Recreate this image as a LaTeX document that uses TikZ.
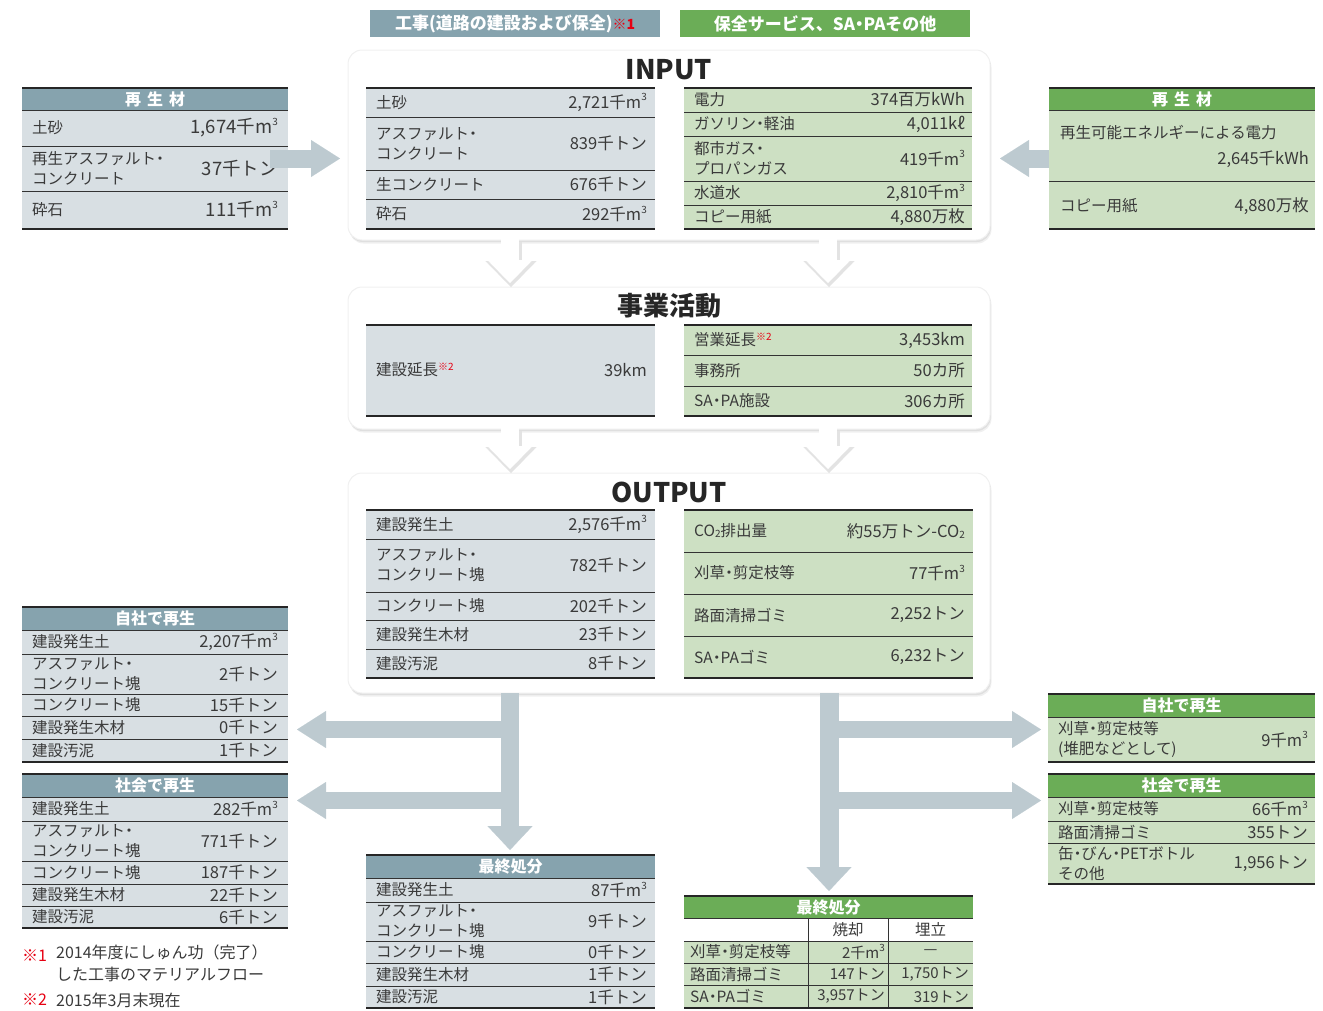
\documentclass[tikz,border=0pt]{standalone}
\usepackage{fontspec}
\setmainfont{Noto Sans CJK JP}
\usetikzlibrary{arrows.meta,shadows}

\definecolor{grayHead}{HTML}{86A3AE}
\definecolor{grayCell}{HTML}{D8DFE3}
\definecolor{greenHead}{HTML}{6BAD57}
\definecolor{greenCell}{HTML}{CDE0C3}
\definecolor{flowGray}{HTML}{BDCAD0}
\definecolor{inkGray}{HTML}{3A3A3A}
\definecolor{noteRed}{HTML}{E60012}

\newcommand\cubic{\raisebox{.8ex}{\fontsize{10}{10}\selectfont 3}}
\newcommand\subtwo{\raisebox{-.1ex}{\fontsize{10}{10}\selectfont 2}}
\newcommand\noteref[1]{\raisebox{.6ex}{\fontsize{10}{10}\selectfont\color{noteRed}※#1}}
\newcommand\nk{\kern-.25em・\kern-.25em}

\begin{document}
\begin{tikzpicture}[x=1pt, y=-1pt, text=inkGray, font=\fontsize{15.5}{20}\selectfont,
    panel/.style={fill=white, draw=black!6, line width=1pt, rounded corners=14pt, anchor=north west,
      inner sep=0pt, outer sep=0pt,
      drop shadow={shadow xshift=1.5pt, shadow yshift=-3.5pt, fill=black, opacity=.06},
      drop shadow={shadow xshift=.8pt, shadow yshift=-2pt, fill=black, opacity=.07}},
    tag/.style={fill=#1, text=white, anchor=north west, minimum width=290pt, minimum height=27pt,
      inner sep=0pt, font=\fontsize{17}{17}\selectfont\bfseries},
    title/.style={inner sep=0pt, text=black!85, font=\fontsize{27}{27}\selectfont\bfseries},
    tbl/.style={fill=#1, anchor=north west, inner sep=0pt, outer sep=0pt},
    tbl/.default=grayCell,
    hd/.style={fill=#1, anchor=north west, inner sep=0pt, outer sep=0pt, text=white,
      font=\fontsize{16}{16}\selectfont\bfseries},
    lbl/.style={anchor=west, align=left, inner sep=0pt},
    val/.style={anchor=east, align=right, inner sep=0pt, font=\fontsize{16.5}{20}\selectfont},
    big/.style={font=\fontsize{18.5}{20}\selectfont},
    small/.style={font=\fontsize{15}{20}\selectfont},
    rule/.style={draw=black!85, line width=2.4pt},
    sep/.style={draw=black!80, line width=1pt},
    garrow/.style={draw=flowGray, line width=17pt, -{Triangle[width=37pt, length=29pt, line width=.1pt]}},
    gdown/.style={draw=flowGray, line width=19pt, -{Triangle[width=45pt, length=24pt, line width=.1pt]}},
    wdown/.style={draw=white, line width=18pt, -{Triangle[width=45pt, length=23pt, line width=.1pt]}},
    wshade/.style={draw=black!11, line width=21pt, -{Triangle[width=51pt, length=26pt, line width=.1pt]}}]

  \useasboundingbox (0,0) rectangle (1323,1010);

  % ---------------- tags ----------------
  \node[tag=grayHead] (tagWork) at (370,10) {工事(道路の建設および保全){\color{noteRed}\fontsize{14}{14}\selectfont ※1}};
  \node[tag=greenHead] (tagServ) at (680,10) {保全サービス、SA\nk PAその他};

  % ---------------- panels ----------------
  \node[panel, minimum width=642pt, minimum height=190pt] (input) at (348,50) {};
  \node[panel, minimum width=642pt, minimum height=142pt] (act) at (348,287) {};
  \node[panel, minimum width=642pt, minimum height=220pt] (output) at (348,473) {};
  \node[title] (inTitle) at (669,70) {INPUT};
  \node[title, font=\fontsize{26}{26}\selectfont\bfseries] (actTitle) at (669,306) {事業活動};
  \node[title] (outTitle) at (669,492) {OUTPUT};

  % white arrows between the panels
  \coordinate (dnA) at (510,0);
  \coordinate (dnB) at (828,0);
  \draw[wshade, shorten >=2pt, transform canvas={xshift=1pt, yshift=-2pt}] (input.south -| dnA) -- (act.north -| dnA);
  \draw[wshade, shorten >=2pt, transform canvas={xshift=1pt, yshift=-2pt}] (input.south -| dnB) -- (act.north -| dnB);
  \draw[wshade, shorten >=2pt, transform canvas={xshift=1pt, yshift=-2pt}] (act.south -| dnA) -- (output.north -| dnA);
  \draw[wshade, shorten >=2pt, transform canvas={xshift=1pt, yshift=-2pt}] (act.south -| dnB) -- (output.north -| dnB);
  \draw[wdown, shorten >=4pt] ([yshift=1pt]input.south -| dnA) -- (act.north -| dnA);
  \draw[wdown, shorten >=4pt] ([yshift=1pt]input.south -| dnB) -- (act.north -| dnB);
  \draw[wdown, shorten >=4pt] ([yshift=1pt]act.south -| dnA) -- (output.north -| dnA);
  \draw[wdown, shorten >=4pt] ([yshift=1pt]act.south -| dnB) -- (output.north -| dnB);

  % ---------------- INPUT ----------------
  \node[tbl, minimum width=289pt, minimum height=141pt] (inW) at (366,88) {};
  \draw[sep] (366,117) -- (655,117);
  \draw[sep] (366,170) -- (655,170);
  \draw[sep] (366,199) -- (655,199);
  \draw[rule] (inW.north west) -- (inW.north east);
  \draw[rule] (inW.south west) -- (inW.south east);
  \node[lbl] (inW1) at (376,102.5) {土砂};
  \node[val] (inW1v) at (647,102.5) {2,721千m\cubic};
  \node[lbl] (inW2) at (376,143.5) {アスファルト\nk\\コンクリート};
  \node[val] (inW2v) at (647,143.5) {839千トン};
  \node[lbl] (inW3) at (376,184.5) {生コンクリート};
  \node[val] (inW3v) at (647,184.5) {676千トン};
  \node[lbl] (inW4) at (376,214) {砕石};
  \node[val] (inW4v) at (647,214) {292千m\cubic};

  \node[tbl=greenCell, minimum width=288pt, minimum height=141pt] (inS) at (684,88) {};
  \draw[sep] (684,112) -- (972,112);
  \draw[sep] (684,136) -- (972,136);
  \draw[sep] (684,181) -- (972,181);
  \draw[sep] (684,205) -- (972,205);
  \draw[rule] (inS.north west) -- (inS.north east);
  \draw[rule] (inS.south west) -- (inS.south east);
  \node[lbl] (inS1) at (694,100) {電力};
  \node[val] (inS1v) at (965,100) {374百万kWh};
  \node[lbl] (inS2) at (694,124) {ガソリン\nk 軽油};
  \node[val] (inS2v) at (965,124) {4,011kℓ};
  \node[lbl] (inS3) at (694,158.5) {都市ガス\nk\\プロパンガス};
  \node[val] (inS3v) at (965,158.5) {419千m\cubic};
  \node[lbl] (inS4) at (694,193) {水道水};
  \node[val] (inS4v) at (965,193) {2,810千m\cubic};
  \node[lbl] (inS5) at (694,217) {コピー用紙};
  \node[val] (inS5v) at (965,217) {4,880万枚};

  % recycled material, left and right
  \node[tbl, minimum width=266pt, minimum height=141pt] (srcL) at (22,88) {};
  \node[hd=grayHead, minimum width=266pt, minimum height=22pt] (srcLh) at (22,88) {再\hspace{6pt}生\hspace{6pt}材};
  \draw[sep] (22,110) -- (288,110);
  \draw[sep] (22,146) -- (288,146);
  \draw[sep] (22,191) -- (288,191);
  \draw[rule] (srcL.north west) -- (srcL.north east);
  \draw[rule] (srcL.south west) -- (srcL.south east);
  \node[lbl] (srcL1) at (32,128) {土砂};
  \node[val, big] (srcL1v) at (278,128) {1,674千m\cubic};
  \node[lbl] (srcL2) at (32,168.5) {再生アスファルト\nk\\コンクリート};
  \node[val, big] (srcL2v) at (278,168.5) {37千トン};
  \node[lbl] (srcL3) at (32,210) {砕石};
  \node[val, big] (srcL3v) at (278,210) {111千m\cubic};

  \node[tbl=greenCell, minimum width=266pt, minimum height=141pt] (srcR) at (1049,88) {};
  \node[hd=greenHead, minimum width=266pt, minimum height=22pt] (srcRh) at (1049,88) {再\hspace{6pt}生\hspace{6pt}材};
  \draw[sep] (1049,110) -- (1315,110);
  \draw[sep] (1049,181) -- (1315,181);
  \draw[rule] (srcR.north west) -- (srcR.north east);
  \draw[rule] (srcR.south west) -- (srcR.south east);
  \node[lbl] (srcR1) at (1060,133) {再生可能エネルギーによる電力};
  \node[val] (srcR1v) at (1309,159) {2,645千kWh};
  \node[lbl] (srcR2) at (1060,206) {コピー用紙};
  \node[val] (srcR2v) at (1309,206) {4,880万枚};

  \draw[garrow, line width=18pt, shorten >=8pt] ([xshift=-18pt]srcL.east) -- (srcL.east -| input.west);
  \draw[garrow, line width=18pt, shorten >=10pt] (srcR.west) -- (srcR.west -| input.east);

  % ---------------- business activity ----------------
  \node[tbl, minimum width=289pt, minimum height=91pt] (actW) at (366,325) {};
  \draw[rule] (actW.north west) -- (actW.north east);
  \draw[rule] (actW.south west) -- (actW.south east);
  \node[lbl] (actW1) at (376,370) {建設延長\noteref{2}};
  \node[val] (actW1v) at (647,370) {39km};

  \node[tbl=greenCell, minimum width=288pt, minimum height=91pt] (actS) at (684,325) {};
  \draw[sep] (684,355) -- (972,355);
  \draw[sep] (684,386) -- (972,386);
  \draw[rule] (actS.north west) -- (actS.north east);
  \draw[rule] (actS.south west) -- (actS.south east);
  \node[lbl] (actS1) at (694,340) {営業延長\noteref{2}};
  \node[val] (actS1v) at (965,340) {3,453km};
  \node[lbl] (actS2) at (694,370.5) {事務所};
  \node[val] (actS2v) at (965,370.5) {50カ所};
  \node[lbl] (actS3) at (694,401) {SA\nk PA施設};
  \node[val] (actS3v) at (965,401) {306カ所};

  % ---------------- OUTPUT ----------------
  \node[tbl, minimum width=289pt, minimum height=168pt] (outW) at (366,510) {};
  \draw[sep] (366,539) -- (655,539);
  \draw[sep] (366,592) -- (655,592);
  \draw[sep] (366,620) -- (655,620);
  \draw[sep] (366,649) -- (655,649);
  \draw[rule] (outW.north west) -- (outW.north east);
  \draw[rule] (outW.south west) -- (outW.south east);
  \node[lbl] (outW1) at (376,524.5) {建設発生土};
  \node[val] (outW1v) at (647,524.5) {2,576千m\cubic};
  \node[lbl] (outW2) at (376,565.5) {アスファルト\nk\\コンクリート塊};
  \node[val] (outW2v) at (647,565.5) {782千トン};
  \node[lbl] (outW3) at (376,606) {コンクリート塊};
  \node[val] (outW3v) at (647,606) {202千トン};
  \node[lbl] (outW4) at (376,634.5) {建設発生木材};
  \node[val] (outW4v) at (647,634.5) {23千トン};
  \node[lbl] (outW5) at (376,663.5) {建設汚泥};
  \node[val] (outW5v) at (647,663.5) {8千トン};

  \node[tbl=greenCell, minimum width=289pt, minimum height=168pt] (outS) at (684,510) {};
  \draw[sep] (684,552) -- (973,552);
  \draw[sep] (684,594) -- (973,594);
  \draw[sep] (684,636) -- (973,636);
  \draw[rule] (outS.north west) -- (outS.north east);
  \draw[rule] (outS.south west) -- (outS.south east);
  \node[lbl] (outS1) at (694,531) {CO\subtwo 排出量};
  \node[val] (outS1v) at (965,531) {約55万トン-CO\subtwo};
  \node[lbl] (outS2) at (694,573) {刈草\nk 剪定枝等};
  \node[val] (outS2v) at (965,573) {77千m\cubic};
  \node[lbl] (outS3) at (694,615) {路面清掃ゴミ};
  \node[val] (outS3v) at (965,615) {2,252トン};
  \node[lbl] (outS4) at (694,657) {SA\nk PAゴミ};
  \node[val] (outS4v) at (965,657) {6,232トン};

  % ---------------- recycling, left ----------------
  \node[tbl, minimum width=266pt, minimum height=155pt] (selfL) at (22,607) {};
  \node[hd=grayHead, minimum width=266pt, minimum height=23pt] (selfLh) at (22,607) {自社で再生};
  \draw[sep] (22,630) -- (288,630);
  \draw[sep] (22,654) -- (288,654);
  \draw[sep] (22,694) -- (288,694);
  \draw[sep] (22,716) -- (288,716);
  \draw[sep] (22,739) -- (288,739);
  \draw[rule] (selfL.north west) -- (selfL.north east);
  \draw[rule] (selfL.south west) -- (selfL.south east);
  \node[lbl] (selfL1) at (32,642) {建設発生土};
  \node[val] (selfL1v) at (278,642) {2,207千m\cubic};
  \node[lbl] (selfL2) at (32,674) {アスファルト\nk\\コンクリート塊};
  \node[val] (selfL2v) at (278,674) {2千トン};
  \node[lbl] (selfL3) at (32,705) {コンクリート塊};
  \node[val] (selfL3v) at (278,705) {15千トン};
  \node[lbl] (selfL4) at (32,727.5) {建設発生木材};
  \node[val] (selfL4v) at (278,727.5) {0千トン};
  \node[lbl] (selfL5) at (32,750.5) {建設汚泥};
  \node[val] (selfL5v) at (278,750.5) {1千トン};

  \node[tbl, minimum width=266pt, minimum height=154pt] (socL) at (22,774) {};
  \node[hd=grayHead, minimum width=266pt, minimum height=23pt] (socLh) at (22,774) {社会で再生};
  \draw[sep] (22,797) -- (288,797);
  \draw[sep] (22,821) -- (288,821);
  \draw[sep] (22,861) -- (288,861);
  \draw[sep] (22,884) -- (288,884);
  \draw[sep] (22,906) -- (288,906);
  \draw[rule] (socL.north west) -- (socL.north east);
  \draw[rule] (socL.south west) -- (socL.south east);
  \node[lbl] (socL1) at (32,809) {建設発生土};
  \node[val] (socL1v) at (278,809) {282千m\cubic};
  \node[lbl] (socL2) at (32,841) {アスファルト\nk\\コンクリート塊};
  \node[val] (socL2v) at (278,841) {771千トン};
  \node[lbl] (socL3) at (32,872.5) {コンクリート塊};
  \node[val] (socL3v) at (278,872.5) {187千トン};
  \node[lbl] (socL4) at (32,895) {建設発生木材};
  \node[val] (socL4v) at (278,895) {22千トン};
  \node[lbl] (socL5) at (32,917) {建設汚泥};
  \node[val] (socL5v) at (278,917) {6千トン};

  % final disposal, construction
  \node[tbl, minimum width=289pt, minimum height=153pt] (finW) at (366,855) {};
  \node[hd=grayHead, minimum width=289pt, minimum height=23pt] (finWh) at (366,855) {最終処分};
  \draw[sep] (366,878) -- (655,878);
  \draw[sep] (366,902) -- (655,902);
  \draw[sep] (366,941) -- (655,941);
  \draw[sep] (366,963) -- (655,963);
  \draw[sep] (366,986) -- (655,986);
  \draw[rule] (finW.north west) -- (finW.north east);
  \draw[rule] (finW.south west) -- (finW.south east);
  \node[lbl] (finW1) at (376,890) {建設発生土};
  \node[val] (finW1v) at (647,890) {87千m\cubic};
  \node[lbl] (finW2) at (376,921.5) {アスファルト\nk\\コンクリート塊};
  \node[val] (finW2v) at (647,921.5) {9千トン};
  \node[lbl] (finW3) at (376,952) {コンクリート塊};
  \node[val] (finW3v) at (647,952) {0千トン};
  \node[lbl] (finW4) at (376,974.5) {建設発生木材};
  \node[val] (finW4v) at (647,974.5) {1千トン};
  \node[lbl] (finW5) at (376,997) {建設汚泥};
  \node[val] (finW5v) at (647,997) {1千トン};

  % final disposal, services
  \node[tbl=white, minimum width=289pt, minimum height=112pt] (finS) at (684,896) {};
  \fill[greenCell] (684,941) rectangle (973,1008);
  \node[hd=greenHead, minimum width=289pt, minimum height=22pt] (finSh) at (684,896) {最終処分};
  \draw[sep] (684,918) -- (973,918);
  \draw[sep] (684,941) -- (973,941);
  \draw[sep] (684,963) -- (973,963);
  \draw[sep] (684,985) -- (973,985);
  \draw[sep] (808,918) -- (808,1008);
  \draw[sep] (888,918) -- (888,1008);
  \draw[rule] (finS.north west) -- (finS.north east);
  \draw[rule] (finS.south west) -- (finS.south east);
  \node (finSc1) at (848,929.5) {焼却};
  \node (finSc2) at (930.5,929.5) {埋立};
  \node[lbl] (finS1) at (690,952) {刈草\nk 剪定枝等};
  \node[val, small] (finS1a) at (885,952) {2千m\cubic};
  \node (finS1b) at (930.5,952) {—};
  \node[lbl] (finS2) at (690,974) {路面清掃ゴミ};
  \node[val, small] (finS2a) at (885,974) {147トン};
  \node[val, small] (finS2b) at (969,974) {1,750トン};
  \node[lbl] (finS3) at (690,996.5) {SA\nk PAゴミ};
  \node[val, small] (finS3a) at (885,996.5) {3,957トン};
  \node[val, small] (finS3b) at (969,996.5) {319トン};

  % ---------------- recycling, right ----------------
  \node[tbl=greenCell, minimum width=267pt, minimum height=68pt] (selfR) at (1048,694) {};
  \node[hd=greenHead, minimum width=267pt, minimum height=23pt] (selfRh) at (1048,694) {自社で再生};
  \draw[sep] (1048,717) -- (1315,717);
  \draw[rule] (selfR.north west) -- (selfR.north east);
  \draw[rule] (selfR.south west) -- (selfR.south east);
  \node[lbl] (selfR1) at (1058,739.5) {刈草\nk 剪定枝等\\(堆肥などとして)};
  \node[val] (selfR1v) at (1308,739.5) {9千m\cubic};

  \node[tbl=greenCell, minimum width=267pt, minimum height=110pt] (socR) at (1048,774) {};
  \node[hd=greenHead, minimum width=267pt, minimum height=23pt] (socRh) at (1048,774) {社会で再生};
  \draw[sep] (1048,797) -- (1315,797);
  \draw[sep] (1048,821) -- (1315,821);
  \draw[sep] (1048,843) -- (1315,843);
  \draw[rule] (socR.north west) -- (socR.north east);
  \draw[rule] (socR.south west) -- (socR.south east);
  \node[lbl] (socR1) at (1058,809) {刈草\nk 剪定枝等};
  \node[val] (socR1v) at (1308,809) {66千m\cubic};
  \node[lbl] (socR2) at (1058,832) {路面清掃ゴミ};
  \node[val] (socR2v) at (1308,832) {355トン};
  \node[lbl] (socR3) at (1058,863.5) {缶\nk びん\nk PETボトル\\その他};
  \node[val] (socR3v) at (1308,863.5) {1,956トン};

  % ---------------- output flows ----------------
  \coordinate (trunkL) at (510,0);
  \coordinate (trunkR) at (829,0);
  \coordinate (brL1) at (510,729.5);
  \coordinate (brL2) at (510,800.5);
  \coordinate (brR1) at (829,729.5);
  \coordinate (brR2) at (829,800.5);
  \draw[gdown, line width=18pt, shorten >=5pt] (output.south -| trunkL) -- (finW.north -| trunkL);
  \draw[gdown, shorten >=5pt] (output.south -| trunkR) -- (finS.north -| trunkR);
  \draw[garrow, shorten >=9pt] (brL1) -- (brL1 -| selfL.east);
  \draw[garrow, shorten >=9pt] (brL2) -- (brL2 -| socL.east);
  \draw[garrow, shorten >=7pt] (brR1) -- (brR1 -| selfR.west);
  \draw[garrow, shorten >=7pt] (brR2) -- (brR2 -| socR.west);

  % ---------------- notes ----------------
  \node[lbl, text=noteRed, font=\fontsize{16}{16}\selectfont] (note1) at (22,956) {※1};
  \node[lbl, font=\fontsize{16}{22}\selectfont, anchor=north west] (note1t) at (56,945) {2014年度にしゅん功（完了）\\した工事のマテリアルフロー};
  \node[lbl, text=noteRed, font=\fontsize{16}{16}\selectfont] (note2) at (22,1000) {※2};
  \node[lbl, font=\fontsize{16}{16}\selectfont] (note2t) at (56,1000) {2015年3月末現在};
\end{tikzpicture}
\end{document}
